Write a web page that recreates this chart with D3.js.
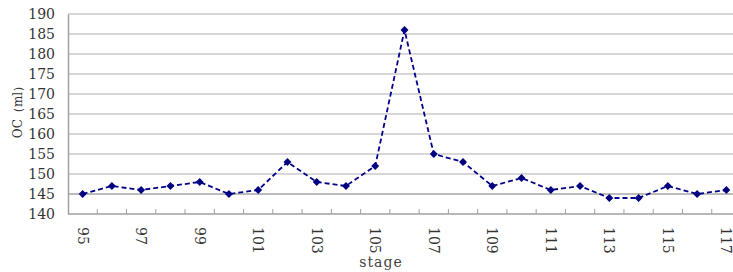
<!DOCTYPE html>
<html><head><meta charset="utf-8">
<script src="https://cdn.jsdelivr.net/npm/d3@7"></script>
<style>body{margin:0;background:#fff;}svg{display:block;} text{font-family:"DejaVu Serif",serif;}</style>
</head><body>
<script>
const stages = [95,96,97,98,99,100,101,102,103,104,105,106,107,108,109,110,111,112,113,114,115,116,117];
const ocValues = [145,147,146,147,148,145,146,153,148,147,152,186,155,153,147,149,146,147,144,144,147,145,146];
const yTicks = [140,145,150,155,160,165,170,175,180,185,190];
const xLabels = [95,97,99,101,103,105,107,109,111,113,115,117];

(function(){
const W = 733, H = 272;
const mL = 68, mR = 741, mT = 14, mB = 214;

const svg = d3.select("body").append("svg").attr("width", W).attr("height", H);
const x = d3.scaleBand().domain(stages).range([mL, mR]).paddingInner(0).paddingOuter(0);
const y = d3.scaleLinear().domain([140,190]).range([mB, mT]);

// gridlines
svg.append("g").selectAll("line").data(yTicks.filter(d=>d>140)).join("line")
  .attr("x1", mL).attr("x2", W).attr("y1", d=>y(d)).attr("y2", d=>y(d))
  .attr("stroke", d=> d===145 ? "#7a7a7a" : "#b0b0b0").attr("stroke-width", 1.2);

// y axis
const yAxis = svg.append("g").attr("transform", `translate(${mL},0)`)
  .call(d3.axisLeft(y).tickValues(yTicks).tickSize(0).tickPadding(13));
yAxis.attr("font-family", null);
yAxis.select(".domain").attr("stroke", "#a0a0a0").attr("stroke-width", 1.5);
yAxis.selectAll("text").attr("font-size", 14).attr("fill", "#333");

// x axis
const boundaries = stages.slice(1).map(s => x(s));
const xAxisG = svg.append("g");
xAxisG.append("line").attr("x1", mL).attr("x2", W).attr("y1", mB).attr("y2", mB)
  .attr("stroke", "#a0a0a0").attr("stroke-width", 1.5);
xAxisG.selectAll("line.tick").data(boundaries).join("line").attr("class","tick")
  .attr("x1", d=>d).attr("x2", d=>d).attr("y1", mB-5).attr("y2", mB)
  .attr("stroke", "#a0a0a0").attr("stroke-width", 1);
xAxisG.selectAll("text").data(xLabels).join("text")
  .attr("transform", d => `translate(${x(d)+x.bandwidth()/2},${mB+13}) rotate(90)`)
  .attr("dy", "0.35em").attr("text-anchor", "start")
  .attr("font-size", 14).attr("fill", "#333")
  .text(d=>d);

// axis titles
svg.append("text").attr("transform", `translate(22,109) rotate(-90)`)
  .attr("text-anchor","middle").attr("font-size", 12).attr("fill","#333")
  .text("OC（ml）");
svg.append("text").attr("x", 381).attr("y", 267).attr("text-anchor","middle")
  .attr("font-size", 14).attr("fill","#444").attr("letter-spacing", 1)
  .text("stage");

// line
const data = stages.map((s,i)=>({s, v: ocValues[i]}));
const cx = d => x(d.s) + x.bandwidth()/2;
svg.append("path").datum(data)
  .attr("d", d3.line().x(cx).y(d=>y(d.v)))
  .attr("fill","none").attr("stroke","#00008b").attr("stroke-width",1.8)
  .attr("stroke-dasharray","5,3");
svg.append("g").selectAll("path").data(data).join("path")
  .attr("d", d3.symbol(d3.symbolDiamond2, 40))
  .attr("transform", d=>`translate(${cx(d)},${y(d.v)})`)
  .attr("fill","#000080");
})();
</script>
</body></html>
